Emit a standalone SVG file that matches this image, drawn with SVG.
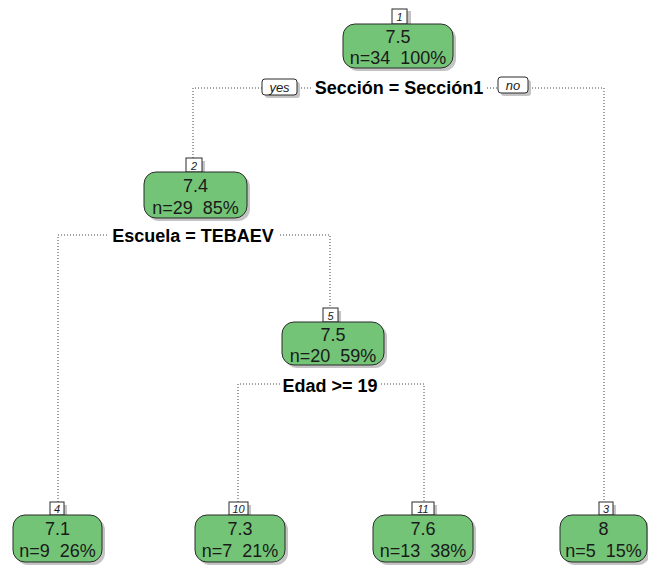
<svg xmlns="http://www.w3.org/2000/svg" width="648" height="565" viewBox="0 0 648 565">
<style>
.sh{fill:#c4c4c4}
.box{fill:#73c476;stroke:#2b2b2b;stroke-width:1}
.val{font-family:"Liberation Sans",Arial,sans-serif;font-size:18px;fill:#1a1a1a;text-anchor:middle;white-space:pre}
.lb{fill:#ffffff;stroke:#2b2b2b;stroke-width:1}
.lbsh{fill:#c4c4c4}
.num{font-family:"Liberation Sans",Arial,sans-serif;font-size:11px;font-style:italic;fill:#1a1a1a;text-anchor:middle}
.split{font-family:"Liberation Sans",Arial,sans-serif;font-size:18px;font-weight:bold;fill:#000;text-anchor:middle}
.yn{font-family:"Liberation Sans",Arial,sans-serif;font-size:13px;font-style:italic;fill:#1a1a1a;text-anchor:middle}
.edge{fill:none;stroke:#444;stroke-width:1;stroke-dasharray:1 2}
</style>
<rect width="648" height="565" fill="#ffffff"/>
<g id="connectors">
<polyline class="edge" points="262,88 193,88 193,158"/>
<line class="edge" x1="298" y1="88" x2="312" y2="88"/>
<line class="edge" x1="487" y1="88" x2="498" y2="88"/>
<polyline class="edge" points="107,235 58,235 58,502"/>
<polyline class="edge" points="280,235 330,235 330,308"/>
<polyline class="edge" points="280,384 238,384 238,502"/>
<polyline class="edge" points="381,384 424,384 424,502"/>
<polyline class="edge" points="529,88 604,88 604,502"/>
<rect class="lbsh" x="265" y="82" width="35" height="16" rx="3"/>
<rect class="lb" x="262" y="79" width="35" height="16" rx="3"/>
<text class="yn" x="279.5" y="92">yes</text>
<rect class="lbsh" x="501" y="80" width="30" height="16" rx="3"/>
<rect class="lb" x="498" y="77" width="30" height="16" rx="3"/>
<text class="yn" x="513" y="90">no</text>
</g>
<g id="split1"><text class="split" x="399" y="94">Sección = Sección1</text></g>
<g id="split2"><text class="split" x="193" y="242">Escuela = TEBAEV</text></g>
<g id="split5"><text class="split" x="330" y="392">Edad &gt;= 19</text></g>
<g id="node1">
<rect class="lbsh" x="395" y="11" width="16" height="14"/>
<rect class="lb" x="392" y="9" width="15" height="15"/>
<text class="num" x="399.5" y="21">1</text>
<rect class="sh" x="346" y="27" width="110" height="44" rx="12"/>
<rect class="box" x="343" y="24" width="110" height="44" rx="12"/>
<text class="val" x="398" y="43">7.5</text>
<text class="val" x="398" y="64">n=34  100%</text>
</g>
<g id="node2">
<rect class="lbsh" x="189" y="161" width="16" height="14"/>
<rect class="lb" x="186" y="158" width="16" height="14"/>
<text class="num" x="194" y="170">2</text>
<rect class="sh" x="147" y="175" width="103" height="46" rx="12"/>
<rect class="box" x="144" y="172" width="103" height="46" rx="12"/>
<text class="val" x="195.5" y="192">7.4</text>
<text class="val" x="195.5" y="214">n=29  85%</text>
</g>
<g id="node5">
<rect class="lbsh" x="326" y="311" width="15" height="14"/>
<rect class="lb" x="323" y="308" width="15" height="14"/>
<text class="num" x="330.5" y="320">5</text>
<rect class="sh" x="285" y="325" width="102" height="43" rx="12"/>
<rect class="box" x="282" y="322" width="102" height="43" rx="12"/>
<text class="val" x="333" y="341">7.5</text>
<text class="val" x="333" y="362">n=20  59%</text>
</g>
<g id="node4">
<rect class="lbsh" x="53" y="505" width="14" height="13"/>
<rect class="lb" x="50" y="502" width="14" height="13"/>
<text class="num" x="57" y="513">4</text>
<rect class="sh" x="16" y="518" width="89" height="47" rx="12"/>
<rect class="box" x="13" y="515" width="89" height="47" rx="12"/>
<text class="val" x="57.5" y="535">7.1</text>
<text class="val" x="57.5" y="557">n=9  26%</text>
</g>
<g id="node10">
<rect class="lbsh" x="232" y="505" width="19" height="13"/>
<rect class="lb" x="229" y="502" width="19" height="13"/>
<text class="num" x="238.5" y="513">10</text>
<rect class="sh" x="198" y="518" width="90" height="47" rx="12"/>
<rect class="box" x="195" y="515" width="90" height="47" rx="12"/>
<text class="val" x="240" y="535">7.3</text>
<text class="val" x="240" y="557">n=7  21%</text>
</g>
<g id="node11">
<rect class="lbsh" x="415" y="505" width="22" height="13"/>
<rect class="lb" x="412" y="502" width="22" height="13"/>
<text class="num" x="423" y="513">11</text>
<rect class="sh" x="376" y="518" width="100" height="47" rx="12"/>
<rect class="box" x="373" y="515" width="100" height="47" rx="12"/>
<text class="val" x="423" y="535">7.6</text>
<text class="val" x="423" y="557">n=13  38%</text>
</g>
<g id="node3">
<rect class="lbsh" x="602" y="505" width="14" height="13"/>
<rect class="lb" x="599" y="502" width="14" height="13"/>
<text class="num" x="606" y="513">3</text>
<rect class="sh" x="563" y="518" width="87" height="47" rx="12"/>
<rect class="box" x="560" y="515" width="87" height="47" rx="12"/>
<text class="val" x="603.5" y="535">8</text>
<text class="val" x="603.5" y="557">n=5  15%</text>
</g>
</svg>
